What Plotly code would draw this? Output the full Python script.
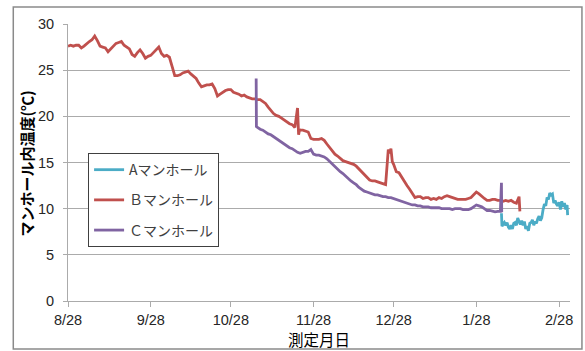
import pandas as pd
import plotly.graph_objects as go

START = pd.Timestamp("2014-08-28")

# Day offsets from START and temperatures (°C) for each manhole
A_DAY = [162.4, 162.6, 163, 163.5, 164, 164.5, 165, 165.5, 166, 166.5, 167, 167.5,
         168, 168.5, 169, 169.5, 170, 170.5, 171, 171.5, 172, 172.5, 173, 173.5,
         174, 174.5, 175, 175.5, 176, 176.5, 177, 177.5, 178, 178.5, 179, 179.5,
         180, 180.5, 181, 181.5, 182, 182.5, 183, 183.5, 184, 184.5, 185, 185.5,
         186, 186.5, 187, 187.2]
A_TEMP = [9.5, 8.1, 8.3, 8.5, 8.2, 8.5, 8.0, 7.8, 8.2, 7.8, 8.4, 8.5,
          8.2, 9.0, 8.6, 8.3, 8.7, 8.2, 8.6, 7.8, 8.1, 7.6, 8.4, 8.5,
          8.8, 8.2, 8.6, 8.4, 8.9, 9.2, 8.7, 9.0, 9.9, 10.5, 10.3, 11.2,
          11.0, 11.7, 11.5, 11.6, 10.6, 10.9, 10.5, 10.3, 10.7, 9.9, 10.8, 10.2,
          10.6, 9.9, 10.4, 9.3]

B_DAY = (list(range(0, 86)) + [86, 86.4, 86.8] + list(range(87, 120))
         + [120, 120.5, 121, 121.5] + list(range(122, 170)) + [169.3])
B_TEMP = [27.6, 27.7, 27.6, 27.7, 27.7, 27.4, 27.6, 27.9, 28.1, 28.3,
          28.7, 28.2, 27.6, 27.5, 27.4, 27.0, 27.3, 27.7, 27.9, 28.0,
          28.1, 27.7, 27.5, 27.3, 26.7, 26.5, 26.9, 27.2, 26.8, 26.3,
          26.5, 26.6, 26.9, 27.2, 27.5, 26.8, 26.5, 26.6, 26.4, 25.4,
          24.4, 24.4, 24.5, 24.7, 24.8, 24.9, 24.6, 24.4, 24.1, 23.6,
          23.2, 23.3, 23.4, 23.4, 23.5, 23.0, 22.2, 22.4, 22.6, 22.8,
          22.9, 22.9, 22.6, 22.5, 22.4, 22.2, 22.3, 22.1, 22.0, 21.9,
          21.9, 21.8, 21.8, 21.6, 21.4, 21.0, 20.6, 20.3, 20.1, 20.0,
          19.8, 19.6, 19.4, 19.2, 19.1, 18.8,
          20.9, 18.0, 18.6,
          18.5, 18.5, 18.4, 18.3, 17.6, 17.5, 17.5, 17.5, 17.6, 17.4,
          17.0, 16.6, 16.2, 15.9, 15.7, 15.4, 15.2, 15.1, 15.0, 14.9,
          14.8, 14.6, 14.3, 14.0, 13.7, 13.4, 13.1, 13.0, 13.0, 12.9,
          12.8, 12.7, 12.6,
          16.4, 16.0, 16.5, 15.1,
          14.8, 14.0, 13.9, 13.4, 12.9, 12.5, 12.1, 11.6, 11.2, 11.3,
          11.3, 11.1, 11.2, 11.2, 11.0, 11.1, 11.0, 11.2, 11.1, 11.3,
          11.4, 11.3, 11.2, 11.1, 11.0, 11.0, 11.0, 11.0, 11.1, 11.2,
          11.5, 11.8, 11.6, 11.3, 11.1, 10.9, 10.9, 11.0, 11.0, 10.9,
          10.9, 10.8, 10.9, 10.8, 10.9, 10.7, 10.6, 11.3,
          9.7]

C_DAY = [70.5, 70.6] + list(range(71, 163)) + [162.4, 162.5]
C_TEMP = [24.1, 18.9,
          18.8, 18.6, 18.5, 18.3, 18.1, 18.0, 17.8, 17.6, 17.4, 17.2,
          17.0, 16.8, 16.6, 16.5, 16.3, 16.1, 16.0, 16.1, 16.2, 16.2,
          16.4, 15.9, 15.8, 15.8, 15.7, 15.6, 15.4, 15.1, 14.8, 14.5,
          14.2, 14.0, 13.8, 13.5, 13.3, 13.0, 12.8, 12.6, 12.3, 12.1,
          11.9, 11.8, 11.7, 11.6, 11.5, 11.5, 11.4, 11.3, 11.3, 11.2,
          11.2, 11.1, 11.0, 10.9, 10.8, 10.7, 10.6, 10.5, 10.4, 10.4,
          10.3, 10.3, 10.2, 10.2, 10.2, 10.1, 10.1, 10.1, 10.1, 10.0,
          10.0, 10.0, 10.0, 9.9, 10.0, 10.0, 10.0, 9.9, 9.9, 9.9,
          10.0, 10.2, 10.4, 10.3, 10.2, 10.0, 9.8, 9.8, 9.7, 9.65,
          9.7, 9.7,
          12.8, 9.6]

SERIES = [
    ("Aマンホール", A_DAY, A_TEMP, "#4BACC6"),
    ("Ｂマンホール", B_DAY, B_TEMP, "#C0504D"),
    ("Ｃマンホール", C_DAY, C_TEMP, "#8064A2"),
]

TICK_DATES = ["2014-08-28", "2014-09-28", "2014-10-28", "2014-11-28",
              "2014-12-28", "2015-01-28", "2015-02-28"]
TICK_LABELS = ["8/28", "9/28", "10/28", "11/28", "12/28", "1/28", "2/28"]

X_TITLE = "測定月日"
Y_TITLE = "マンホール内温度(℃)"

JP_FONT = "Noto Sans CJK JP"
NUM_FONT = "Liberation Sans"
GRID = "#ababab"

fig = go.Figure()
for i, (name, days, temps, color) in enumerate(SERIES):
    dates = START + pd.to_timedelta(days, unit="D")
    fig.add_trace(go.Scatter(
        x=dates, y=temps, name=name, mode="lines",
        line=dict(color=color, width=2.8),
        legendgroup=f"g{i}",
    ))

fig.update_layout(
    width=585, height=351,
    margin=dict(l=68, r=13, t=24, b=50),
    paper_bgcolor="white", plot_bgcolor="white",
    font=dict(family=JP_FONT, color="#262626"),
    showlegend=True,
    legend=dict(
        x=0.04, y=0.534, xanchor="left", yanchor="top",
        bgcolor="white", bordercolor="#404040", borderwidth=1,
        font=dict(family=JP_FONT, size=14, color="#404040"),
        traceorder="grouped", tracegroupgap=9,
        entrywidth=92,
    ),
    xaxis=dict(
        range=["2014-08-28", "2015-03-04 02:00"],
        tickmode="array", tickvals=TICK_DATES, ticktext=TICK_LABELS,
        ticks="outside", ticklen=5, tickcolor=GRID,
        ticklabelstandoff=1,
        showgrid=False, showline=True, linecolor=GRID, linewidth=1,
        tickfont=dict(family=NUM_FONT, size=14.5, color="#262626"),
        zeroline=False,
    ),
    yaxis=dict(
        range=[0, 30], dtick=5, tick0=0,
        ticks="outside", ticklen=4, tickcolor=GRID,
        ticklabelstandoff=6,
        showgrid=True, gridcolor=GRID, gridwidth=1,
        showline=True, linecolor=GRID, linewidth=1,
        tickfont=dict(family=NUM_FONT, size=14.5, color="#262626"),
        zeroline=False,
    ),
)

# Axis titles
fig.add_annotation(text=X_TITLE, xref="paper", yref="paper",
                   x=0.5, y=-0.137, xanchor="center", yanchor="middle",
                   showarrow=False,
                   font=dict(family=JP_FONT, size=15.5, color="#000000"))
fig.add_annotation(text=f"<b>{Y_TITLE}</b>", xref="paper", yref="paper",
                   x=-0.0823, y=0.495, xanchor="center", yanchor="middle",
                   textangle=-90, showarrow=False,
                   font=dict(family=JP_FONT, size=15, color="#000000"))

# Outer chart frame
fig.add_shape(type="rect", xref="paper", yref="paper",
              x0=-0.109, x1=1.0238, y0=-0.173, y1=1.061,
              line=dict(color="#8a8a8a", width=1.5), layer="below")

fig.write_html("out.html")
